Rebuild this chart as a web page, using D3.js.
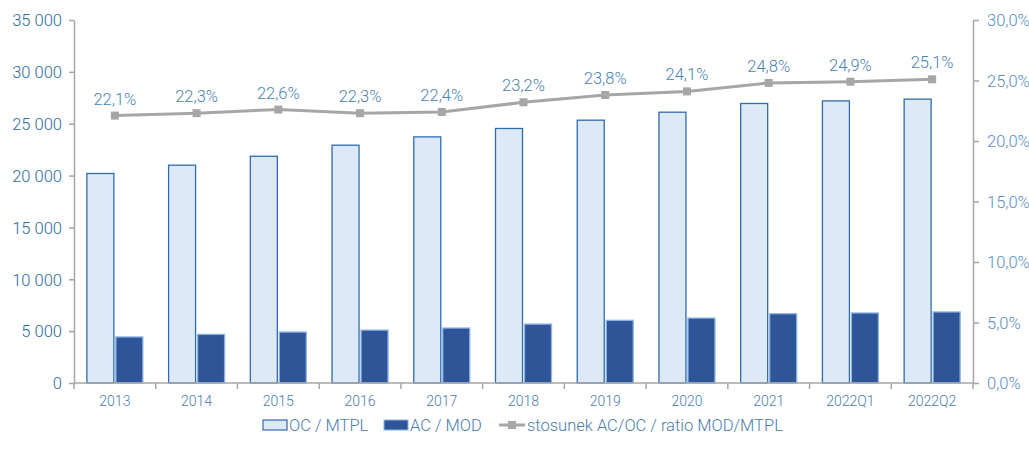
<!DOCTYPE html>
<html>
<head>
<meta charset="utf-8">
<script src="https://cdn.jsdelivr.net/npm/d3@7"></script>
<style>
    body { margin: 0; background: #fff; }
    svg { font-family: Roboto, sans-serif; font-weight: 300; }
</style>
</head>
<body>
<svg id="chart" width="1029" height="461"></svg>
<script>
'use strict';

var categories = ['2013', '2014', '2015', '2016', '2017', '2018', '2019', '2020', '2021', '2022Q1', '2022Q2'];
var ocValues = [20200, 21000, 21860, 22930, 23730, 24540, 25340, 26110, 26950, 27200, 27370];
var acValues = [4440, 4690, 4910, 5100, 5300, 5680, 6040, 6260, 6680, 6750, 6850];
var ratioValues = [22.1, 22.3, 22.6, 22.3, 22.4, 23.2, 23.8, 24.1, 24.8, 24.9, 25.1];
var leftTicks = [0, 5000, 10000, 15000, 20000, 25000, 30000, 35000];
var rightTicks = [0, 5, 10, 15, 20, 25, 30];
var legendLabels = ['OC / MTPL', 'AC / MOD', 'stosunek AC/OC / ratio MOD/MTPL'];

(function() {

    var margin = { top: 20, right: 56, bottom: 78, left: 74 };

    var svg = d3.select('#chart');
    var width = svg.attr('width') - margin.left - margin.right;
    var height = svg.attr('height') - margin.top - margin.bottom;

    var axisColor = '#a6a6a6';

    var x = d3.scaleBand()
        .domain(categories)
        .range([0, width]);

    var yLeft = d3.scaleLinear()
        .domain([0, 35000])
        .range([height, 0]);

    var yRight = d3.scaleLinear()
        .domain([0, 30])
        .range([height, 0]);

    var formatThousands = function(d) {
        return d3.format(',')(d).replace(/,/g, ' ');
    };
    var formatPct = function(d) {
        return d3.format('.1f')(d).replace('.', ',') + '%';
    };

    var g = svg.append('g')
        .attr('transform', 'translate(' + margin.left + ',' + margin.top + ')');

    // bars
    var barW = 27;
    var gap = 2;

    var cat = g.selectAll('.cat')
        .data(categories)
        .enter().append('g')
        .attr('class', 'cat')
        .attr('transform', function(d) { return 'translate(' + (x(d) + x.bandwidth() / 2) + ',0)'; });

    cat.append('rect')
        .attr('x', -barW - gap / 2)
        .attr('y', function(d, i) { return yLeft(ocValues[i]); })
        .attr('width', barW)
        .attr('height', function(d, i) { return height - yLeft(ocValues[i]); })
        .style('fill', '#dde9f6')
        .style('stroke', '#2f6cb0')
        .style('stroke-width', 1.3);

    cat.append('rect')
        .attr('x', gap / 2)
        .attr('y', function(d, i) { return yLeft(acValues[i]); })
        .attr('width', barW)
        .attr('height', function(d, i) { return height - yLeft(acValues[i]); })
        .style('fill', '#2e5597')
        .style('stroke', '#8db3e2')
        .style('stroke-width', 1.3);

    // left axis
    var leftAxis = g.append('g')
        .call(d3.axisLeft(yLeft).tickValues(leftTicks).tickSize(5).tickSizeOuter(0).tickFormat(formatThousands));
    leftAxis.selectAll('path, line').style('stroke', axisColor).style('stroke-width', 1.5);
    leftAxis.selectAll('text')
        .attr('x', -12)
        .attr('dy', '0.35em')
        .style('font-size', '16.5px')
        .style('font-family', 'Roboto, sans-serif')
        .style('fill', '#2c6aa6');

    // right axis
    var rightAxis = g.append('g')
        .attr('transform', 'translate(' + width + ',0)')
        .call(d3.axisRight(yRight).tickValues(rightTicks).tickSize(6).tickSizeOuter(0).tickFormat(formatPct));
    rightAxis.selectAll('path, line').style('stroke', axisColor).style('stroke-width', 1.5);
    rightAxis.selectAll('text')
        .attr('x', 14)
        .attr('dy', '0.35em')
        .style('font-size', '16.5px')
        .style('font-family', 'Roboto, sans-serif')
        .style('fill', '#5a8ec6');

    // bottom axis with ticks at band boundaries
    var bottom = g.append('g')
        .attr('transform', 'translate(0,' + height + ')');
    bottom.append('line')
        .attr('x1', 0).attr('x2', width)
        .style('stroke', axisColor).style('stroke-width', 1.5);
    bottom.selectAll('.btick')
        .data(categories.concat(['end']))
        .enter().append('line')
        .attr('x1', function(d, i) { return i < categories.length ? x(d) : width; })
        .attr('x2', function(d, i) { return i < categories.length ? x(d) : width; })
        .attr('y1', 0).attr('y2', 6)
        .style('stroke', axisColor).style('stroke-width', 1.5);
    bottom.selectAll('.blabel')
        .data(categories)
        .enter().append('text')
        .attr('x', function(d) { return x(d) + x.bandwidth() / 2; })
        .attr('y', 23)
        .attr('text-anchor', 'middle')
        .style('font-size', '14px')
        .style('fill', '#4a7cb2')
        .text(function(d) { return d; });

    // ratio line
    var line = d3.line()
        .x(function(d, i) { return x(categories[i]) + x.bandwidth() / 2; })
        .y(function(d) { return yRight(d); });

    g.append('path')
        .datum(ratioValues)
        .attr('d', line)
        .style('fill', 'none')
        .style('stroke', '#a6a6a6')
        .style('stroke-width', 3);

    g.selectAll('.marker')
        .data(ratioValues)
        .enter().append('rect')
        .attr('x', function(d, i) { return x(categories[i]) + x.bandwidth() / 2 - 4; })
        .attr('y', function(d) { return yRight(d) - 4; })
        .attr('width', 8)
        .attr('height', 8)
        .style('fill', '#a6a6a6');

    g.selectAll('.dlabel')
        .data(ratioValues)
        .enter().append('text')
        .attr('x', function(d, i) { return x(categories[i]) + x.bandwidth() / 2; })
        .attr('y', function(d) { return yRight(d) - 11; })
        .attr('text-anchor', 'middle')
        .style('font-size', '16.5px')
        .style('fill', '#4a7fb8')
        .text(formatPct);

    // legend
    var legend = svg.append('g')
        .attr('transform', 'translate(0,425)');

    legend.append('rect')
        .attr('x', 263).attr('y', -5).attr('width', 24).attr('height', 10)
        .style('fill', '#dde9f6').style('stroke', '#2f6cb0').style('stroke-width', 1.2);
    legend.append('rect')
        .attr('x', 384).attr('y', -5).attr('width', 24).attr('height', 10)
        .style('fill', '#2e5597').style('stroke', '#8db3e2').style('stroke-width', 1);
    legend.append('line')
        .attr('x1', 499).attr('x2', 525).attr('y1', 0).attr('y2', 0)
        .style('stroke', '#a6a6a6').style('stroke-width', 3);
    legend.append('rect')
        .attr('x', 508).attr('y', -4).attr('width', 8).attr('height', 8)
        .style('fill', '#a6a6a6');

    var legendX = [289, 410, 527];
    legend.selectAll('.ltext')
        .data(legendLabels)
        .enter().append('text')
        .attr('x', function(d, i) { return legendX[i]; })
        .attr('y', 0)
        .attr('dy', '0.35em')
        .style('font-size', '16.5px')
        .style('fill', '#4a7cb2')
        .text(function(d) { return d; });

})();
</script>
</body>
</html>
